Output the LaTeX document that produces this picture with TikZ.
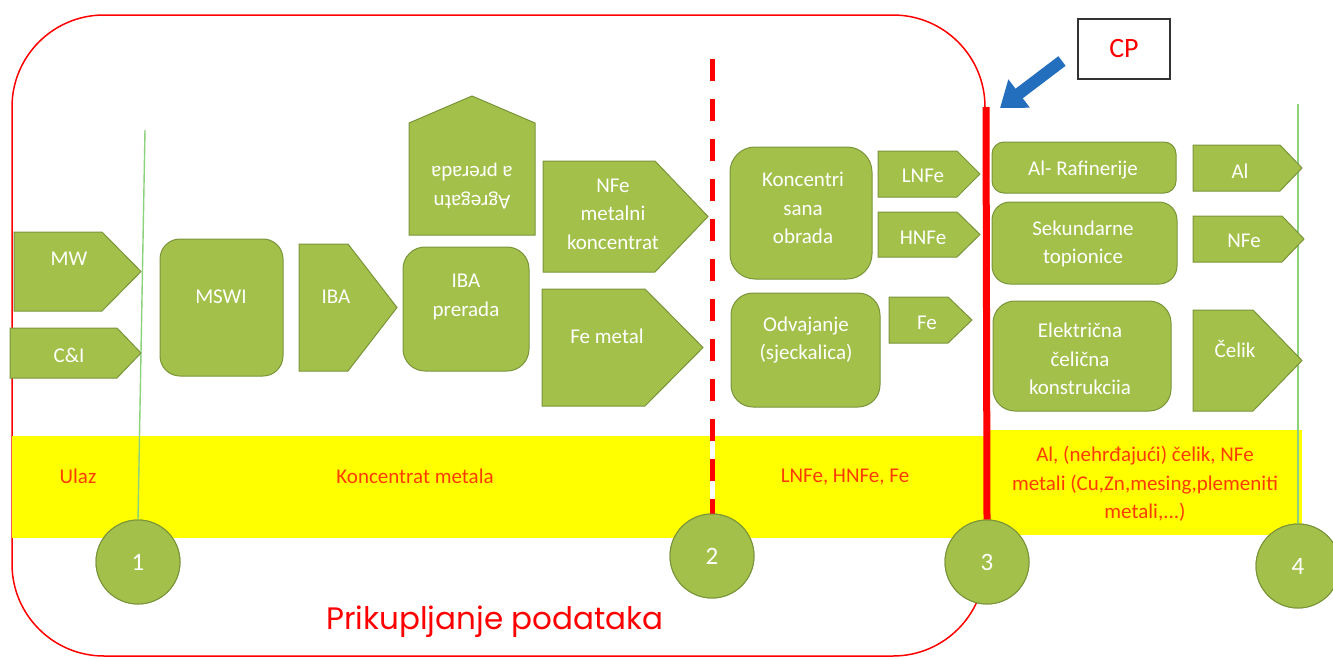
\documentclass[tikz,border=0pt]{standalone}
\usepackage{fontspec}
\setmainfont{Carlito}
\newfontfamily\popfont{Poppins}
\usetikzlibrary{arrows.meta}
\definecolor{gfill}{RGB}{163,193,74}
\definecolor{gline}{RGB}{122,148,58}
\definecolor{redl}{RGB}{255,0,0}
\definecolor{txtred}{RGB}{255,60,0}
\definecolor{yel}{RGB}{255,255,0}
\definecolor{blu}{RGB}{36,110,190}
\definecolor{lgreen}{RGB}{140,210,125}
\tikzset{
  gshape/.style={fill=gfill, draw=gline, line width=1pt},
  wt/.style={text=white, align=center, inner sep=0pt, font=\fontsize{21}{28.5}\selectfont},
  yt/.style={text=txtred, align=center, inner sep=0pt, font=\fontsize{21}{28.5}\selectfont},
  numc/.style={circle, gshape, minimum size=84pt, inner sep=0pt, text=white, font=\fontsize{25}{28}\selectfont},
  glinev/.style={draw=lgreen, line width=1.4pt}
}
\newcommand{\rpent}[5]{\draw[gshape] (#1,#2) -- (#4,#2) -- (#5,{(#2+#3)/2}) -- (#4,#3) -- (#1,#3) -- cycle;}
\begin{document}
\begin{tikzpicture}[x=1pt,y=-1pt]
\useasboundingbox (0,0) rectangle (1333,659);
\fill[white] (0,0) rectangle (1333,659);
% outer red rounded frame
\draw[redl, line width=1.5pt, rounded corners=92pt] (12,15) rectangle (985,656);
% yellow bands
\fill[yel] (12,436) rectangle (985,538);
\fill[yel] (985,430) rectangle (1302,535);
% circles
\node[numc] (c1) at (138,562) {1};
\node[numc] (c2) at (712,556) {2};
\node[numc] (c3) at (987,562) {3};
\node[numc] (c4) at (1298,566) {4};
% vertical lines
\coordinate (t1) at (145,130);
\coordinate (t2) at (712,59);
\coordinate (t3) at (986,107);
\coordinate (t4) at (1298,104);
\draw[glinev] (t1) -- (c1.north);
\draw[glinev] (t4) -- (c4.north);
\draw[white, line width=5pt] (t2) -- (c2.north);
\draw[redl, line width=5pt, dash pattern=on 22pt off 18pt] (t2) -- (c2.north);
\draw[redl, line width=7pt] (t3) -- (c3.north);
% redraw circles on top
\node[numc] at (c1) {1};
\node[numc] at (c2) {2};
\node[numc] at (c3) {3};
\node[numc] at (c4) {4};
% green shapes
\rpent{14}{232}{311}{102}{141}
\rpent{10}{328}{378}{117}{141}
\draw[gshape, rounded corners=20pt] (160,239) rectangle (283,376);
\rpent{299}{244}{371}{348}{397}
\draw[gshape, rounded corners=22pt] (403,247) rectangle (529,371);
\draw[gshape] (409,235) -- (535,235) -- (535,123) -- (472,96) -- (409,123) -- cycle;
\rpent{543}{161}{272}{655}{708}
\rpent{542}{289}{406}{645}{703}
\draw[gshape, rounded corners=25pt] (730,147) rectangle (872,279);
\draw[gshape, rounded corners=22pt] (731,293) rectangle (880,407);
\rpent{878}{151}{197}{957}{980}
\rpent{878}{212}{257}{957}{980}
\rpent{889}{297}{343}{948}{972}
\draw[gshape, rounded corners=12pt] (992,142) rectangle (1176,193);
\draw[gshape, rounded corners=18pt] (992,202) rectangle (1177,284);
\draw[gshape, rounded corners=22pt] (993,301) rectangle (1171,411);
\rpent{1193}{145}{191}{1280}{1302}
\rpent{1193}{216}{262}{1282}{1304}
\rpent{1193}{310}{411}{1253}{1302}
% labels
\node[wt] (mw) at (69,259) {MW};
\node[wt] (ci) at (69,355) {C\&I};
\node[wt] (mswi) at (221,297) {MSWI};
\node[wt] (iba) at (336,297) {IBA};
\node[wt] (ibap) at (466,297) {IBA\\prerada};
\node[wt, rotate=180] (agr) at (472,186) {Agregatn\\a prerada};
\node[wt] (nfe) at (613,214) {NFe\\metalni\\koncentrat};
\node[wt] (femet) at (607,336) {Fe metal};
\node[wt] (kons) at (803,208) {Koncentri\\sana\\obrada};
\node[wt] (odv) at (806,340) {Odvajanje\\(sjeckalica)};
\node[wt] (lnfe) at (923,176) {LNFe};
\node[wt] (hnfe) at (923,238) {HNFe};
\node[wt] (fe) at (927,323) {Fe};
\node[wt] (alr) at (1083,170) {Al- Rafinerije};
\node[wt] (sek) at (1083,244) {Sekundarne\\topionice};
\node[wt] (ele) at (1080,359) {Električna\\čelična\\konstrukciia};
\node[wt] (al) at (1240,171) {Al};
\node[wt] (nfe2) at (1244,241) {NFe};
\node[wt] (celik) at (1235,349) {Čelik};
% yellow band texts
\node[yt] (ulaz) at (78,476) {Ulaz};
\node[yt] (konm) at (415,476) {Koncentrat metala};
\node[yt] (lhf) at (845,477) {LNFe, HNFe, Fe};
\node[yt] (rtxt) at (1145,484) {Al, (nehrđajući) čelik, NFe\\metali (Cu,Zn,mesing,plemeniti\\metali,...)};
% CP box and arrow
\node[draw=black!80, line width=1.3pt, minimum width=92pt, minimum height=60pt, inner sep=0pt, text=redl, font=\fontsize{28}{32}\selectfont] (cp) at (1124,49) {CP};
\coordinate (arS) at (1062,61);
\coordinate (arE) at (1000,108);
\draw[blu, line width=12pt, -{Triangle[length=24pt,width=34pt]}] (arS) -- (arE);
% title
\node[text=redl, inner sep=0pt, font=\popfont\fontsize{31}{34}\selectfont] (title) at (495,622) {Prikupljanje podataka};
\end{tikzpicture}
\end{document}
